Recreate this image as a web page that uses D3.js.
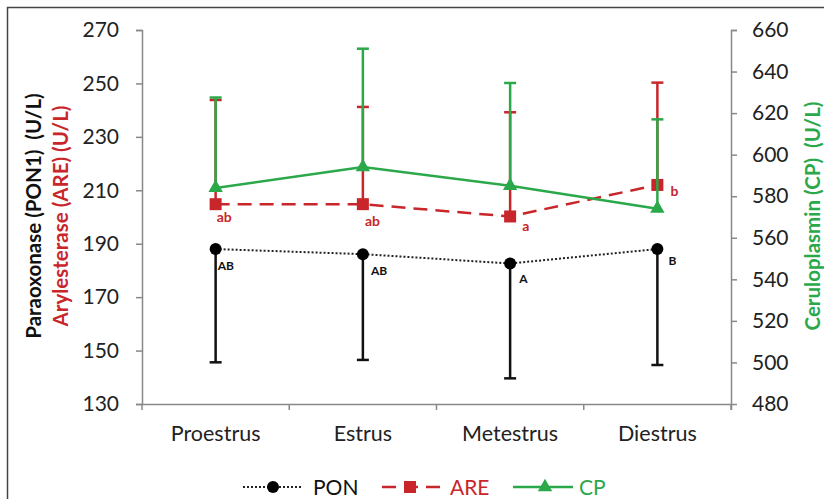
<!DOCTYPE html>
<html>
<head>
<meta charset="utf-8">
<script src="https://cdn.jsdelivr.net/npm/d3@7"></script>
<style>
  body { margin: 0; background: #fff; }
  text { font-family: Lato, "Open Sans", sans-serif; }
</style>
</head>
<body>
<script>
// Data
var phases = ["Proestrus", "Estrus", "Metestrus", "Diestrus"];

var ponMean = [188, 186.1, 182.6, 188];
var ponLow = [145.6, 146.5, 139.6, 144.6];
var ponLetters = ["AB", "AB", "A", "B"];

var areMean = [204.8, 204.8, 200.2, 212];
var areHigh = [243.8, 241.2, 239.2, 250.3];
var areLetters = ["ab", "ab", "a", "b"];

var cpMean = [584, 594, 585, 574];
var cpHigh = [627.5, 651, 634.5, 617];

var leftTicks = [130, 150, 170, 190, 210, 230, 250, 270];
var rightTicks = [480, 500, 520, 540, 560, 580, 600, 620, 640, 660];

// label placement relative to each point
var ponLabelOffset = [[2, 21], [8, 21], [9, 20], [11, 16]];
var areLabelOffset = [[1, 18], [2, 22], [12, 15], [13, 11]];

var width = 824;
var height = 499;
var red = "#c8262b";
var green = "#2aa84a";

var svg = d3.select("body")
            .append("svg")
            .attr("width", width)
            .attr("height", height);

// outer frame
svg.append("rect")
    .attr("x", 7.5).attr("y", 7.5)
    .attr("width", width).attr("height", height)
    .style("fill", "none")
    .style("stroke", "#444")
    .style("stroke-width", 1.5);

var x = d3.scaleBand().domain(phases).range([142, 731]).padding(0);
var yL = d3.scaleLinear().domain([130, 270]).range([404, 30]);
var yR = d3.scaleLinear().domain([480, 660]).range([404, 30]);
var cx = function(d, i) { return x(phases[i]) + x.bandwidth() / 2; };

// axes
var leftAxis = svg.append("g")
    .attr("transform", "translate(142,0)")
    .call(d3.axisLeft(yL).tickValues(leftTicks).tickSize(6).tickPadding(17));

var rightAxis = svg.append("g")
    .attr("transform", "translate(731,0)")
    .call(d3.axisRight(yR).tickValues(rightTicks).tickSize(6).tickPadding(15));

var bottomAxis = svg.append("g")
    .attr("transform", "translate(0,404)")
    .call(d3.axisBottom(x).tickSize(0).tickPadding(22));

// category boundary ticks
svg.selectAll(".bt")
    .data(d3.range(phases.length + 1))
    .enter()
    .append("line")
    .attr("x1", function(d) { return 142 + d * x.bandwidth(); })
    .attr("x2", function(d) { return 142 + d * x.bandwidth(); })
    .attr("y1", 404).attr("y2", 410)
    .style("stroke", "#888").style("stroke-width", 1.5);

[leftAxis, rightAxis, bottomAxis].forEach(function(g) {
    g.select(".domain").style("stroke", "#888").style("stroke-width", 1.5);
    g.selectAll(".tick line").style("stroke", "#888").style("stroke-width", 1.5);
    g.selectAll(".tick text").style("font-size", "21px").style("fill", "#222")
        .style("font-family", "Lato, 'Open Sans', sans-serif");
});
bottomAxis.selectAll(".tick text").style("font-size", "21.5px");
leftAxis.select(".domain").attr("d", "M-6,404.5H0.5V30.5H-6");
rightAxis.select(".domain").attr("d", "M6,30.5H0.5V410");
bottomAxis.select(".domain").attr("d", "M142,0.5H731");

// axis titles
svg.append("text")
    .attr("transform", "translate(41,216) rotate(-90)")
    .attr("text-anchor", "middle")
    .style("white-space", "pre")
    .style("font-size", "20.5px").style("font-weight", "bold").style("fill", "#111")
    .text("Paraoxonase (PON1)  (U/L)");
svg.append("text")
    .attr("transform", "translate(68,216) rotate(-90)")
    .attr("text-anchor", "middle")
    .style("white-space", "pre")
    .style("font-size", "20.5px").style("font-weight", "bold").style("fill", red)
    .text("Arylesterase (ARE) (U/L)");
svg.append("text")
    .attr("transform", "translate(820,216) rotate(-90)")
    .attr("text-anchor", "middle")
    .style("white-space", "pre")
    .style("font-size", "20.5px").style("font-weight", "bold").style("fill", green)
    .text("Ceruloplasmin (CP)  (U/L)");

// ---- PON series (minus error bars)
var pon = svg.append("g");
pon.selectAll(".eb").data(ponMean).enter().append("line")
    .attr("x1", cx).attr("x2", cx)
    .attr("y1", function(d) { return yL(d); })
    .attr("y2", function(d, i) { return yL(ponLow[i]); })
    .style("stroke", "#111").style("stroke-width", 2.5);
pon.selectAll(".cap").data(ponLow).enter().append("line")
    .attr("x1", function(d, i) { return cx(d, i) - 6; })
    .attr("x2", function(d, i) { return cx(d, i) + 6; })
    .attr("y1", function(d) { return yL(d); })
    .attr("y2", function(d) { return yL(d); })
    .style("stroke", "#111").style("stroke-width", 2.5);
pon.append("path")
    .datum(ponMean)
    .attr("d", d3.line().x(cx).y(function(d) { return yL(d); }))
    .style("fill", "none").style("stroke", "#222")
    .style("stroke-width", 2).style("stroke-dasharray", "2,2");
pon.selectAll("circle").data(ponMean).enter().append("circle")
    .attr("cx", cx).attr("cy", function(d) { return yL(d); })
    .attr("r", 6).style("fill", "#000");
pon.selectAll(".lab").data(ponLetters).enter().append("text")
    .attr("x", function(d, i) { return cx(d, i) + ponLabelOffset[i][0]; })
    .attr("y", function(d, i) { return yL(ponMean[i]) + ponLabelOffset[i][1]; })
    .style("font-size", "12px").style("font-weight", "bold").style("fill", "#111")
    .text(function(d) { return d; });

// ---- ARE series (plus error bars)
var are = svg.append("g");
are.selectAll(".eb").data(areMean).enter().append("line")
    .attr("x1", cx).attr("x2", cx)
    .attr("y1", function(d) { return yL(d); })
    .attr("y2", function(d, i) { return yL(areHigh[i]); })
    .style("stroke", red).style("stroke-width", 2.5);
are.selectAll(".cap").data(areHigh).enter().append("line")
    .attr("x1", function(d, i) { return cx(d, i) - 6; })
    .attr("x2", function(d, i) { return cx(d, i) + 6; })
    .attr("y1", function(d) { return yL(d); })
    .attr("y2", function(d) { return yL(d); })
    .style("stroke", red).style("stroke-width", 2.5);
are.append("path")
    .datum(areMean)
    .attr("d", d3.line().x(cx).y(function(d) { return yL(d); }))
    .style("fill", "none").style("stroke", red)
    .style("stroke-width", 2.5).style("stroke-dasharray", "14,8");
are.selectAll("rect").data(areMean).enter().append("rect")
    .attr("x", function(d, i) { return cx(d, i) - 6; })
    .attr("y", function(d) { return yL(d) - 6; })
    .attr("width", 12).attr("height", 12)
    .style("fill", red);
are.selectAll(".lab").data(areLetters).enter().append("text")
    .attr("x", function(d, i) { return cx(d, i) + areLabelOffset[i][0]; })
    .attr("y", function(d, i) { return yL(areMean[i]) + areLabelOffset[i][1]; })
    .style("font-size", "14px").style("font-weight", "bold").style("fill", red)
    .text(function(d) { return d; });

// ---- CP series (plus error bars, right axis)
var tri = d3.symbol().type(d3.symbolTriangle).size(90);
var cp = svg.append("g");
cp.selectAll(".eb").data(cpMean).enter().append("line")
    .attr("x1", cx).attr("x2", cx)
    .attr("y1", function(d) { return yR(d); })
    .attr("y2", function(d, i) { return yR(cpHigh[i]); })
    .style("stroke", green).style("stroke-width", 2.5);
cp.selectAll(".cap").data(cpHigh).enter().append("line")
    .attr("x1", function(d, i) { return cx(d, i) - 6; })
    .attr("x2", function(d, i) { return cx(d, i) + 6; })
    .attr("y1", function(d) { return yR(d); })
    .attr("y2", function(d) { return yR(d); })
    .style("stroke", green).style("stroke-width", 2.5);
cp.append("path")
    .datum(cpMean)
    .attr("d", d3.line().x(cx).y(function(d) { return yR(d); }))
    .style("fill", "none").style("stroke", green).style("stroke-width", 2.5);
cp.selectAll(".mk").data(cpMean).enter().append("path")
    .attr("d", tri)
    .attr("transform", function(d, i) { return "translate(" + cx(d, i) + "," + yR(d) + ")"; })
    .style("fill", green);

// ---- legend
var legendY = 487;
var lg = svg.append("g");
lg.append("line").attr("x1", 243).attr("x2", 303).attr("y1", legendY).attr("y2", legendY)
    .style("stroke", "#222").style("stroke-width", 2).style("stroke-dasharray", "2,2");
lg.append("circle").attr("cx", 273).attr("cy", legendY).attr("r", 6).style("fill", "#000");
lg.append("text").attr("x", 313).attr("y", legendY + 8)
    .style("font-size", "21px").style("fill", "#111").text("PON");

lg.append("line").attr("x1", 382).attr("x2", 443).attr("y1", legendY).attr("y2", legendY)
    .style("stroke", red).style("stroke-width", 2.5).style("stroke-dasharray", "14,8");
lg.append("rect").attr("x", 404).attr("y", legendY - 6).attr("width", 12).attr("height", 12)
    .style("fill", red);
lg.append("text").attr("x", 450).attr("y", legendY + 8)
    .style("font-size", "21px").style("fill", red).text("ARE");

lg.append("line").attr("x1", 513).attr("x2", 573).attr("y1", legendY).attr("y2", legendY)
    .style("stroke", green).style("stroke-width", 2.5);
lg.append("path").attr("d", tri).attr("transform", "translate(545," + legendY + ")")
    .style("fill", green);
lg.append("text").attr("x", 579).attr("y", legendY + 8)
    .style("font-size", "21px").style("fill", green).text("CP");
</script>
</body>
</html>
